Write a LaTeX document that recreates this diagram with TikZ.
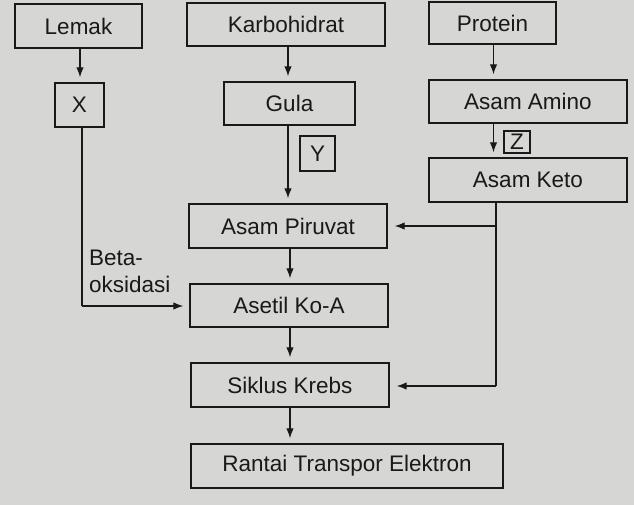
\documentclass[tikz,border=0pt]{standalone}
\usepackage{fontspec}
\setmainfont{Liberation Sans}
\usetikzlibrary{arrows.meta}
\definecolor{paper}{RGB}{214,214,212}
\definecolor{ink}{RGB}{25,25,25}
\begin{document}
\begin{tikzpicture}[x=1bp,y=-1bp,
  box/.style={draw=ink,line width=1.4bp,minimum width=#1,inner sep=0pt,
    font=\fontsize{22.5bp}{27bp}\selectfont,text=ink},
  arr/.style={draw=ink,line width=1.3bp,-{Latex[length=10bp,width=7.5bp]},shorten >=5bp},
  ln/.style={draw=ink,line width=1.3bp}]
\fill[paper] (0,0) rectangle (634,505);
\useasboundingbox (0,0) rectangle (634,505);
% top row
\node[box=127bp,minimum height=44bp] (lemak) at (78.5,26) {Lemak};
\node[box=198bp,minimum height=43bp] (karbo) at (286,24.5) {Karbohidrat};
\node[box=127bp,minimum height=42bp] (protein) at (492.5,23) {Protein};
% second row
\node[box=49bp,minimum height=44bp] (X) at (79.5,105) {X};
\node[box=131bp,minimum height=43bp] (gula) at (289.5,103.5) {Gula};
\node[box=198bp,minimum height=43bp] (amino) at (528,101.5) {Asam Amino};
\node[box=35bp,minimum height=35bp] (Y) at (317.5,153.5) {Y};
\node[box=26bp,minimum height=22bp] (Z) at (517,142) {Z};
\node[box=198bp,minimum height=44bp] (keto) at (528,180) {Asam Keto};
% centre column
\node[box=198bp,minimum height=44bp] (piruvat) at (288,226) {Asam Piruvat};
\node[box=198bp,minimum height=43bp] (asetil) at (289,305.5) {Asetil Ko-A};
\node[box=198bp,minimum height=44bp] (siklus) at (290,385) {Siklus Krebs};
\node[box=312bp,minimum height=44bp] (rantai) at (347,466) {Rantai Transpor Elektron};
\node[anchor=west,align=left,inner sep=0pt,text=ink,
  font=\fontsize{22.5bp}{27bp}\selectfont] (beta) at (89,271.5) {Beta-\\oksidasi};
% arrows
\coordinate (lx) at (80,0);
\draw[arr] (lx |- lemak.south) -- (lx |- X.north);
\coordinate (gx) at (288,0);
\draw[arr] (gx |- karbo.south) -- (gx |- gula.north);
\draw[arr] (gx |- gula.south) -- (gx |- piruvat.north);
\coordinate (px) at (493.5,0);
\draw[arr] (px |- protein.south) -- (px |- amino.north);
\draw[arr] (px |- amino.south) -- (px |- keto.north);
\coordinate (cx) at (290,0);
\draw[arr] (cx |- piruvat.south) -- (cx |- asetil.north);
\draw[arr] (cx |- asetil.south) -- (cx |- siklus.north);
\draw[arr] (cx |- siklus.south) -- (cx |- rantai.north);
% left path (beta-oxidation)
\coordinate (xb) at (82,306);
\draw[ln] (xb |- X.south) -- (xb);
\draw[arr,shorten >=6bp] (xb) -- (xb -| asetil.west);
% right path from Asam Keto
\coordinate (kt) at (496,0);
\coordinate (kb) at (496,386);
\draw[ln] (kt |- keto.south) -- (kb);
\draw[arr,shorten >=7bp] (kt |- piruvat.east) -- (piruvat.east);
\draw[arr,shorten >=7bp] (kb) -- (kb -| siklus.east);
\end{tikzpicture}
\end{document}
